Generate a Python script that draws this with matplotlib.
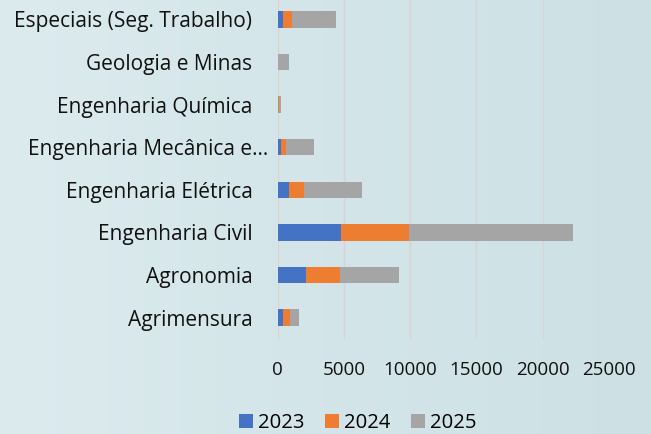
import matplotlib.pyplot as plt
import numpy as np
from matplotlib.colors import LinearSegmentedColormap
from matplotlib.transforms import ScaledTranslation

# categories from bottom to top
categories = ['Agrimensura', 'Agronomia', 'Engenharia Civil', 'Engenharia Elétrica',
              'Engenharia Mecânica e…', 'Engenharia Química', 'Geologia e Minas',
              'Especiais (Seg. Trabalho)']
years = ['2023', '2024', '2025']
v2023 = [380, 2160, 4760, 900, 280, 20, 0, 450]
v2024 = [550, 2530, 5170, 1080, 340, 100, 0, 630]
v2025 = [720, 4480, 12370, 4390, 2140, 160, 850, 3360]
colors = ['#4472c4', '#ed7d31', '#a5a5a5']

plt.rcParams['font.family'] = ['Open Sans', 'DejaVu Sans']

fig = plt.figure(figsize=(6.51, 4.34), dpi=100)

# soft blue-grey backdrop, lighter on the left
bg = fig.add_axes([0, 0, 1, 1], zorder=-10)
grad = np.linspace(0, 1, 256).reshape(1, -1)
cmap = LinearSegmentedColormap.from_list('bg', ['#dcebee', '#d3e5e9', '#cde1e5'])
bg.imshow(grad, aspect='auto', cmap=cmap, extent=[0, 1, 0, 1])
bg.axis('off')

ax = fig.add_axes([277.5 / 651, 95 / 434, 331.5 / 651, 341 / 434])
ax.patch.set_alpha(0)

y = np.arange(len(categories))
left = np.zeros(len(categories))
for vals, yr, c in zip([v2023, v2024, v2025], years, colors):
    ax.barh(y, vals, left=left, height=0.39, color=c, label=yr, zorder=3)
    left = left + np.array(vals)

ax.set_xlim(0, 25000)
ax.set_ylim(-0.5, len(categories) - 0.5)
ax.set_xticks(np.arange(0, 25001, 5000))
ax.set_yticks(y)
ax.set_yticklabels(categories)
ax.grid(axis='x', color='#d9d3d1', linewidth=1, zorder=0)
for s in ['top', 'right', 'bottom']:
    ax.spines[s].set_visible(False)
ax.spines['left'].set_color('#d9d3d1')
ax.tick_params(axis='y', length=0, pad=18, labelsize=15, labelcolor='#111111')
ax.tick_params(axis='x', length=0, pad=16, labelsize=13.5, labelcolor='#111111')

# the truncated label sits closer to the axis in the original
lbl = ax.get_yticklabels()[4]
lbl.set_transform(lbl.get_transform() + ScaledTranslation(16 / 100, 0, fig.dpi_scale_trans))

fig.legend(loc='center', bbox_to_anchor=(358 / 651, 1 - 423 / 434), ncol=3, frameon=False,
           fontsize=14.6, handlelength=0.7, handleheight=0.7, handletextpad=0.25,
           columnspacing=1.0)

fig.savefig('out.png', dpi=100)
